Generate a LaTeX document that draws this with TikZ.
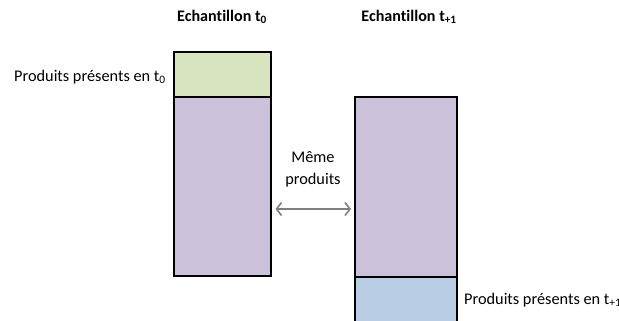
\documentclass[tikz,border=0pt]{standalone}
\usepackage{fontspec}
\setmainfont[Ligatures=NoCommon]{Carlito}
\usepackage{tikz}
\usetikzlibrary{arrows.meta,positioning,calc}
\definecolor{vertclair}{HTML}{D7E4BD}
\definecolor{mauveclair}{HTML}{CCC1DA}
\definecolor{bleuclair}{HTML}{B9CDE5}
\definecolor{grisfleche}{HTML}{7F7F7F}

\tikzset{
  boite/.style={draw=black, line width=2pt, minimum width=97pt, inner sep=0pt, outer sep=0pt, anchor=north},
  etiq/.style={font=\fontsize{16.3}{22}\selectfont, inner sep=0pt},
  titre/.style={etiq, font=\fontsize{16.1}{22}\selectfont\bfseries},
  fleche/.style={grisfleche, line width=1.6pt, {Straight Barb[length=5pt,width=13pt]}-{Straight Barb[length=5pt,width=13pt]}, shorten <=5pt, shorten >=4pt}
}

\begin{document}
\begin{tikzpicture}[x=1pt, y=-1pt]
    \useasboundingbox (0,0) rectangle (619,321);
    \clip (0,0) rectangle (619,321);

    % echantillon t0
    \node [titre] (titre0) at (222,17) {Echantillon t\textsubscript{0}};
    \node [boite, fill=vertclair, minimum height=45pt] (vert0) at (222,52) {};
    \node [boite, fill=mauveclair, minimum height=179pt] (mauve0) at (vert0.south) {};
    \node [etiq, anchor=west] (pres0) at (14,77) {Produits présents en t\textsubscript{0}};

    % echantillon t+1
    \node [titre] (titre1) at (409,17) {Echantillon t\textsubscript{+1}};
    \node [boite, fill=mauveclair, minimum width=102pt, minimum height=180pt] (mauve1) at (406,97) {};
    \node [boite, fill=bleuclair, minimum width=102pt, minimum height=60pt] (bleu1) at (mauve1.south) {};
    \node [etiq, anchor=west] (pres1) at (464,300) {Produits présents en t\textsubscript{+1}};

    % memes produits
    \node [etiq, align=center] (meme) at (313,169) {Même\\produits};
    \coordinate (niveau) at (0,209);
    \draw [fleche] (mauve0.east |- niveau) -- (mauve1.west |- niveau);
\end{tikzpicture}
\end{document}
